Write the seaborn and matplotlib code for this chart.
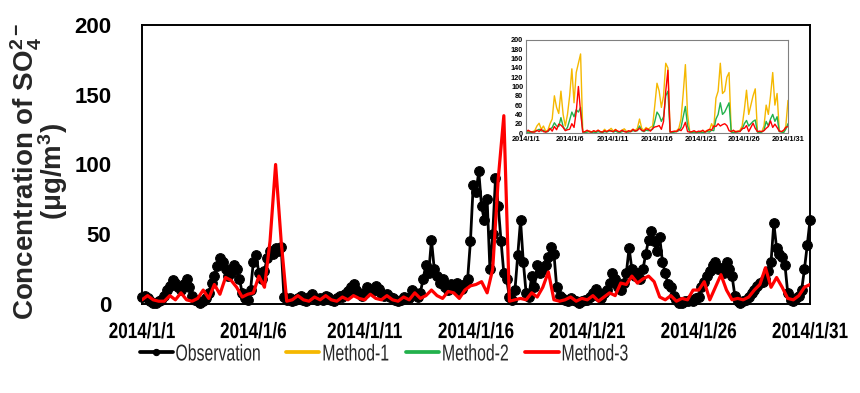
import numpy as np
import pandas as pd
import matplotlib
matplotlib.use("Agg")
import matplotlib.pyplot as plt
from matplotlib.patheffects import AbstractPathEffect
from matplotlib.transforms import Affine2D
import seaborn as sns

# ---------------- data ----------------
tick_labels = ["2014/1/1", "2014/1/6", "2014/1/11", "2014/1/16",
               "2014/1/21", "2014/1/26", "2014/1/31"]
tick_days = [0, 5, 10, 15, 20, 25, 30]

# observation every 3 hours (hour 0 .. 720)
obs_hours = list(range(0, 721, 3))
observation = [
    5, 6, 4, 2, 1, 1, 2, 3,
    6, 10, 13, 17, 15, 12, 10, 14,
    18, 12, 6, 3, 2, 1, 2, 4,
    8, 15, 20, 27, 33, 30, 25, 20,
    22, 28, 25, 18, 8, 4, 3, 10,
    30, 35, 22, 18, 24, 33, 38, 36,
    40, 38, 41, 5, 3, 4, 2, 3,
    4, 6, 3, 2, 5, 7, 4, 3,
    4, 3, 6, 5, 3, 2, 4, 6,
    5, 7, 9, 12, 14, 10, 8, 6,
    8, 12, 10, 9, 13, 11, 8, 6,
    7, 5, 4, 3, 2, 3, 5, 4,
    4, 10, 8, 5, 8, 18, 28, 22,
    46, 25, 20, 15, 18, 12, 10, 14,
    12, 15, 10, 11, 14, 18, 45, 85,
    80, 95, 70, 60, 75, 25, 50, 90,
    70, 45, 22, 18, 5, 3, 10, 35,
    60, 30, 8, 5, 20, 12, 28, 22,
    25, 28, 34, 41, 36, 12, 6, 4,
    3, 2, 4, 3, 2, 1, 2, 3,
    3, 5, 8, 11, 6, 4, 8, 10,
    15, 22, 18, 12, 10, 15, 22, 40,
    25, 20, 22, 18, 25, 36, 46, 52,
    45, 38, 48, 30, 22, 14, 12, 6,
    3, 1, 1, 2, 2, 3, 2, 4,
    5, 12, 16, 20, 24, 28, 30, 25,
    26, 22, 30, 25, 20, 6, 2, 1,
    2, 3, 5, 8, 10, 13, 15, 16,
    18, 24, 30, 58, 40, 36, 34, 28,
    8, 3, 2, 4, 6, 10, 25, 42,
    60,
]

# model results every 6 hours (hour 0 .. 720)
model_hours = list(range(0, 721, 6))
method1 = [
    2, 3, 2, 3,
    5, 15, 21, 8,
    15, 4, 6, 20,
    30, 80, 55, 42,
    90, 40, 15, 40,
    80, 138, 65, 130,
    150, 170, 3, 2,
    3, 5, 2, 4,
    2, 6, 3, 2,
    8, 3, 6, 10,
    4, 8, 3, 2,
    6, 9, 4, 3,
    5, 8, 6, 10,
    30, 10, 6, 12,
    8, 12, 15, 60,
    107, 90, 55, 80,
    150, 140, 3, 2,
    3, 5, 10, 30,
    85, 147, 40, 3,
    2, 3, 1, 2,
    4, 2, 3, 6,
    5, 20, 10, 75,
    90, 150, 85, 90,
    120, 130, 3, 2,
    4, 3, 6, 15,
    50, 92, 40, 60,
    80, 95, 3, 2,
    3, 15, 60, 40,
    80, 130, 60, 85,
    5, 3, 2, 15,
    70,
]
method2 = [
    1, 2, 1, 2,
    3, 5, 8, 4,
    6, 2, 3, 8,
    12, 22, 15, 14,
    33, 14, 6, 12,
    28, 45, 35, 50,
    45, 55, 2, 1,
    2, 3, 1, 2,
    1, 3, 2, 1,
    3, 2, 4, 5,
    2, 4, 2, 1,
    3, 4, 2, 2,
    3, 5, 4, 5,
    15, 5, 3, 6,
    5, 6, 8, 25,
    45, 38, 25, 35,
    80, 90, 2, 1,
    2, 3, 5, 12,
    35, 57, 15, 2,
    1, 2, 1, 1,
    2, 1, 2, 3,
    2, 6, 5, 30,
    40, 65, 40, 45,
    55, 65, 2, 1,
    2, 2, 4, 8,
    20, 27, 15, 20,
    25, 28, 2, 1,
    2, 6, 25, 15,
    30, 40, 25, 35,
    3, 2, 1, 8,
    20,
]
method3 = [
    3, 6, 3, 2,
    2, 6, 3, 8,
    3, 2, 4, 10,
    4, 14, 7, 19,
    17, 12, 5, 7,
    8, 20, 12, 45,
    100, 45, 2, 3,
    6, 3, 2, 5,
    3, 6, 3, 2,
    5, 3, 6, 4,
    3, 7, 4, 3,
    6, 3, 2, 5,
    3, 8, 4, 6,
    10, 6, 4, 9,
    8, 4, 10, 13,
    14, 16, 8, 25,
    90, 135, 2, 3,
    4, 3, 8, 5,
    12, 23, 3, 2,
    3, 5, 2, 4,
    3, 6, 2, 5,
    8, 6, 15, 14,
    20, 15, 18, 20,
    16, 5, 3, 6,
    2, 4, 3, 10,
    10, 16, 3, 12,
    21, 10, 3, 4,
    3, 5, 10, 14,
    26, 12, 19, 12,
    4, 3, 6, 12,
    14,
]

obs_df = pd.DataFrame({"day": np.array(obs_hours) / 24.0, "value": observation})
mod_df = pd.DataFrame({"day": np.array(model_hours) / 24.0,
                       "Method-1": method1, "Method-2": method2, "Method-3": method3})


# horizontal squeeze of text glyphs (imitates a narrow typeface)
class HSqueeze(AbstractPathEffect):
    def __init__(self, sx, anchor="center"):
        super().__init__()
        self.sx = sx
        self.anchor = anchor

    def draw_path(self, renderer, gc, tpath, affine, rgbFace=None):
        ext = tpath.get_extents()
        cx = (ext.x0 + ext.x1) / 2 if self.anchor == "center" else ext.x0
        t = Affine2D().translate(-cx, 0).scale(self.sx, 1).translate(cx, 0) + affine
        renderer.draw_path(gc, tpath, t, rgbFace)


# ---------------- style ----------------
sns.set_theme(style="white")
plt.rcParams["font.family"] = ["Liberation Sans", "DejaVu Sans"]
plt.rcParams["mathtext.fontset"] = "custom"
plt.rcParams["mathtext.rm"] = "Liberation Sans:bold"
plt.rcParams["mathtext.it"] = "Liberation Sans:bold"
plt.rcParams["mathtext.bf"] = "Liberation Sans:bold"

fig = plt.figure(figsize=(8.6, 3.93), dpi=100)
ax = fig.add_axes([142 / 860, 1 - 304 / 393, (810 - 142) / 860, (304 - 25) / 393])

sns.lineplot(data=obs_df, x="day", y="value", ax=ax, color="black", lw=2.0,
             marker="o", markersize=7, markeredgecolor="black", clip_on=False,
             label="Observation", legend=False, zorder=3)
sns.lineplot(data=mod_df, x="day", y="Method-3", ax=ax, color="#FF0000", lw=2.3,
             label="Method-3", legend=False, zorder=4)

ax.set_xlim(0, 30)
ax.set_ylim(0, 200)
ax.set_xticks(tick_days)
ax.set_xticklabels(tick_labels)
ax.set_yticks([0, 50, 100, 150, 200])
ax.set_xlabel("")
ax.set_ylabel("")
for s in ax.spines.values():
    s.set_color("black")
    s.set_linewidth(1.4)
ax.tick_params(axis="y", direction="in", length=5, width=1.4, pad=22,
               labelsize=16, colors="black")
ax.tick_params(axis="x", length=0, pad=13, labelsize=16, colors="black")
for lab in ax.get_yticklabels():
    lab.set_fontweight("bold")
for lab in ax.get_xticklabels():
    lab.set_fontweight("bold")
    lab.set_path_effects([HSqueeze(0.77)])

fig.text(26 / 860, 1 - 172 / 393, "Concentration of SO$_4^{2-}$", rotation=90,
         ha="center", va="center", fontsize=20, fontweight="bold")
fig.text(53 / 860, 1 - 171 / 393, "(μg/m$^3$)", rotation=90,
         ha="center", va="center", fontsize=20, fontweight="bold")

# ---------------- inset ----------------
axin = fig.add_axes([526 / 860, 1 - 133 / 393, (788 - 526) / 860, (133 - 40) / 393])
sns.lineplot(data=mod_df, x="day", y="Method-1", ax=axin, color="#F5B800", lw=1.0,
             label="Method-1", legend=False)
sns.lineplot(data=mod_df, x="day", y="Method-2", ax=axin, color="#22B14C", lw=1.0,
             label="Method-2", legend=False)
sns.lineplot(data=mod_df, x="day", y="Method-3", ax=axin, color="#FF0000", lw=1.0,
             legend=False)
axin.set_xlim(0, 30)
axin.set_ylim(0, 200)
axin.set_xticks(tick_days)
axin.set_xticklabels(tick_labels)
axin.set_yticks(list(range(0, 201, 20)))
axin.set_xlabel("")
axin.set_ylabel("")
for s in axin.spines.values():
    s.set_color("#808080")
    s.set_linewidth(0.8)
axin.tick_params(length=0, labelsize=5.3, pad=2, colors="black")
for lab in axin.get_xticklabels() + axin.get_yticklabels():
    lab.set_fontweight("bold")

# ---------------- legend ----------------
h_main, l_main = ax.get_legend_handles_labels()
h_in, l_in = axin.get_legend_handles_labels()
handles = [h_main[0], h_in[0], h_in[1], h_main[1]]
labels = ["Observation", "Method-1", "Method-2", "Method-3"]
leg = fig.legend(handles, labels, loc="center left",
                 bbox_to_anchor=(119 / 860, 1 - 354 / 393),
                 ncol=4, frameon=False, handlelength=1.45, handletextpad=0.1,
                 columnspacing=-0.55, prop={"size": 16.5})
for t in leg.get_texts():
    t.set_path_effects([HSqueeze(0.69, anchor="left")])
for lh in leg.legend_handles:
    lh.set_linewidth(2.7)
leg.legend_handles[0].set_markersize(4.5)

fig.savefig("out.png", dpi=100)
